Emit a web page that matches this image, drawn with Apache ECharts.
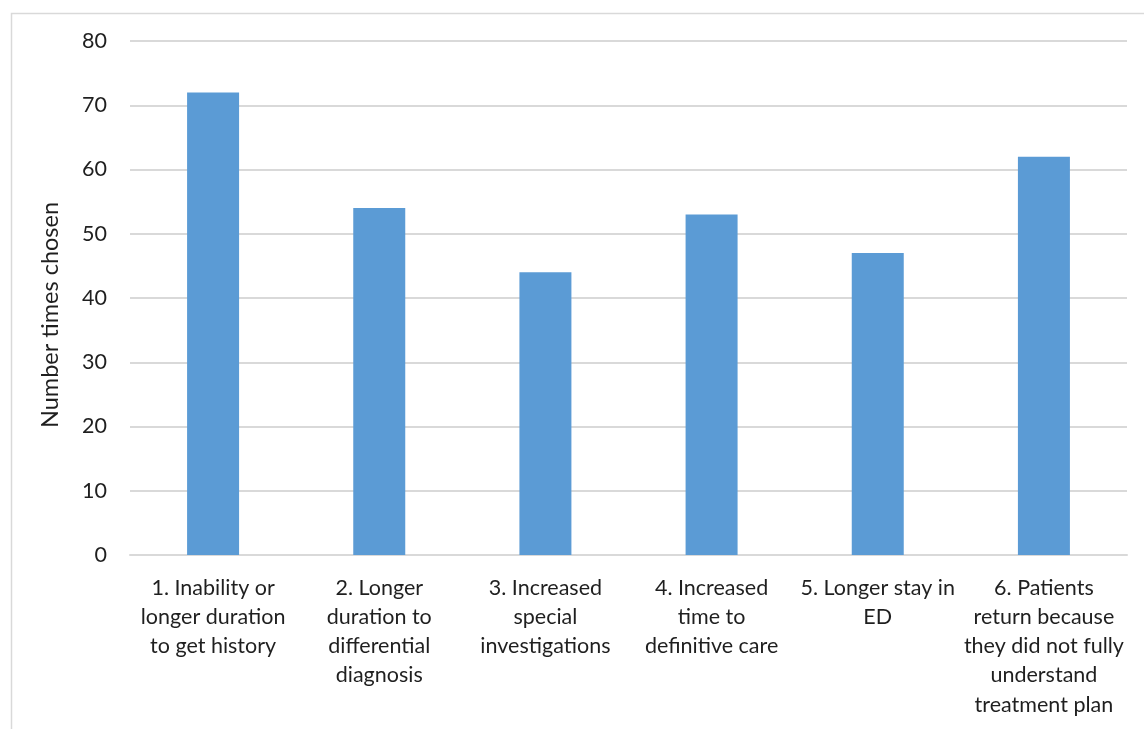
<!DOCTYPE html>
<html>
<head>
<meta charset="utf-8">
<script src="https://cdn.jsdelivr.net/npm/echarts@6/dist/echarts.min.js"></script>
<style>
  html, body { margin: 0; padding: 0; background: #fff; }
  #chart { width: 1144px; height: 729px; }
</style>
</head>
<body>
<div id="chart"></div>
<script>
// Reasons chosen and how many times each was picked
const categories = [
  "1. Inability or\nlonger duration\nto get history",
  "2. Longer\nduration to\ndifferential\ndiagnosis",
  "3. Increased\nspecial\ninvestigations",
  "4. Increased\ntime to\ndefinitive care",
  "5. Longer stay in\nED",
  "6. Patients\nreturn because\nthey did not fully\nunderstand\ntreatment plan"
];
const timesChosen = [72, 54, 44, 53, 47, 62];
const yAxisTitle = "Number times chosen";

const FONT = "Lato, 'Open Sans', sans-serif";
const TEXT = "#1f1f1f";

const chart = echarts.init(document.getElementById("chart"));
chart.setOption({
  animation: false,
  backgroundColor: "#fff",
  graphic: [{
    type: "rect",
    left: 9, top: 11,
    shape: { width: 1160, height: 740 },
    style: { fill: "none", stroke: "#d9d9d9", lineWidth: 1.5 },
    silent: true
  }],
  grid: { left: 130, right: 17, top: 41, bottom: 174 },
  xAxis: {
    type: "category",
    data: categories,
    axisLine: { lineStyle: { color: "#d9d9d9", width: 2 } },
    axisTick: { show: false },
    axisLabel: {
      interval: 0,
      margin: 18,
      color: TEXT,
      fontFamily: FONT,
      fontSize: 21.5,
      lineHeight: 29.3,
      align: "center"
    }
  },
  yAxis: {
    type: "value",
    min: 0, max: 80, interval: 10,
    name: yAxisTitle,
    nameLocation: "middle",
    nameRotate: 90,
    nameGap: 68,
    nameTextStyle: {
      color: TEXT, fontFamily: FONT, fontSize: 23.5,
      padding: [0, 34, 0, 0]
    },
    axisLine: { show: false },
    axisTick: { show: false },
    axisLabel: { color: TEXT, fontFamily: FONT, fontSize: 21.5, margin: 23 },
    splitLine: { lineStyle: { color: "#d9d9d9", width: 2 } }
  },
  series: [{
    type: "bar",
    data: timesChosen,
    barWidth: 52,
    itemStyle: { color: "#5b9bd5" }
  }]
});
</script>
</body>
</html>
